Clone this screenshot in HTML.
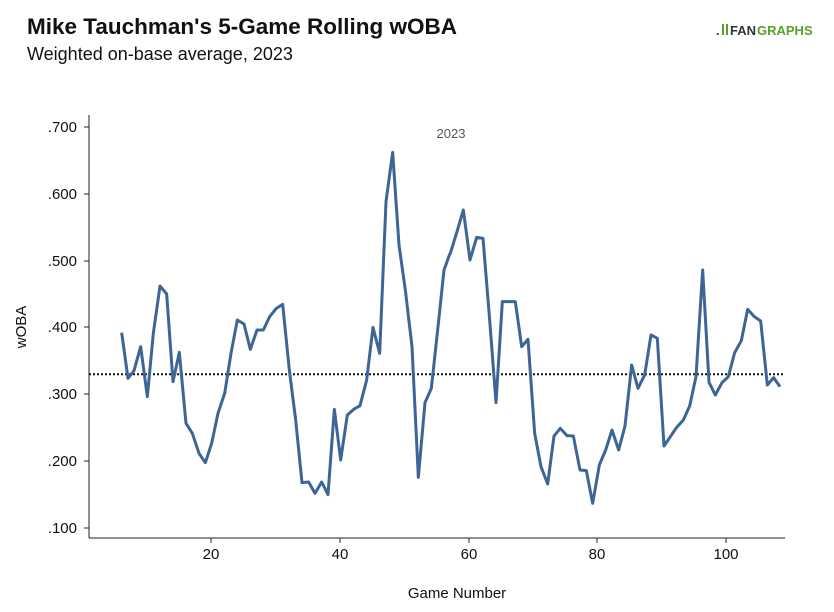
<!DOCTYPE html>
<html><head><meta charset="utf-8"><style>
body{margin:0;background:#fff;}
svg{display:block;font-family:"Liberation Sans",sans-serif;}
</style></head><body>
<svg width="834" height="612" viewBox="0 0 834 612" xmlns="http://www.w3.org/2000/svg">
<rect width="834" height="612" fill="#fff"/>
<text x="27" y="34" font-size="22" font-weight="bold" fill="#111" textLength="430" lengthAdjust="spacingAndGlyphs">Mike Tauchman's 5-Game Rolling wOBA</text>
<text x="27" y="60" font-size="18" fill="#111">Weighted on-base average, 2023</text>
<g font-size="13" font-weight="bold">
<text x="716" y="35" fill="#333">.</text>
<rect x="722" y="24" width="2" height="11" fill="#5aa02c"/><rect x="726" y="24" width="2" height="11" fill="#5aa02c"/>
<text x="730" y="35" fill="#333">FAN</text><text x="757" y="35" fill="#5aa02c">GRAPHS</text>
</g>
<line x1="89" y1="115" x2="89" y2="538" stroke="#222" stroke-width="1"/>
<line x1="89" y1="538" x2="785" y2="538" stroke="#222" stroke-width="1"/>
<g font-size="15" fill="#111" text-anchor="end">
<text x="77" y="132">.700</text><text x="77" y="199">.600</text><text x="77" y="266">.500</text>
<text x="77" y="332">.400</text><text x="77" y="399">.300</text><text x="77" y="466">.200</text><text x="77" y="533">.100</text>
</g>
<g stroke="#222"><line x1="84" y1="127" x2="89" y2="127"/><line x1="84" y1="194" x2="89" y2="194"/><line x1="84" y1="261" x2="89" y2="261"/><line x1="84" y1="327" x2="89" y2="327"/><line x1="84" y1="394" x2="89" y2="394"/><line x1="84" y1="461" x2="89" y2="461"/><line x1="84" y1="528" x2="89" y2="528"/>
<line x1="211" y1="538" x2="211" y2="543"/><line x1="340" y1="538" x2="340" y2="543"/><line x1="469" y1="538" x2="469" y2="543"/><line x1="597" y1="538" x2="597" y2="543"/><line x1="726" y1="538" x2="726" y2="543"/></g>
<g font-size="15" fill="#111" text-anchor="middle">
<text x="211" y="559">20</text><text x="340" y="559">40</text><text x="469" y="559">60</text><text x="597" y="559">80</text><text x="726" y="559">100</text>
<text x="457" y="598">Game Number</text>
<text transform="translate(26,327) rotate(-90)">wOBA</text>
</g>
<text x="451" y="138" font-size="13" fill="#555" text-anchor="middle">2023</text>
<line x1="89" y1="374.3" x2="785" y2="374.3" stroke="#111" stroke-width="2" stroke-dasharray="2 2"/>
<g fill="none" stroke="#3d6595" stroke-width="9" stroke-linejoin="round">
<polyline transform="translate(100,120) scale(0.3333333)" points="65,638 84,775 102,752 122,680 142,830 160,640 180,498 200,522 219,785 238,697 258,910 277,940 297,1000 316,1028 335,970 354,880 374,820 393,700 412,600 432,612 451,688 471,630 490,630 509,590 529,565 548,553 568,750 587,900 606,1088 626,1086 645,1120 665,1086 684,1124 703,868 722,1020 742,885 761,868 780,857 800,780 819,622 839,700 858,245 878,97 897,375 916,510 936,680 955,1072 975,848 994,805 1013,630 1032,450 1050,400"/>
<polyline transform="translate(440,120) scale(0.3333333)" points="30,400 31,400 51,335 70,270 90,420 110,352 129,355 149,600 168,848 187,545 207,545 226,545 245,680 264,658 284,940 303,1040 323,1092 342,948 361,925 381,947 400,948 420,1050 439,1052 458,1150 478,1035 497,990 516,930 536,990 555,918 575,735 594,805 614,765 633,645 652,655 672,978 691,950 710,922 730,900 749,858 768,770 788,450 807,787 826,825 846,788 865,770 884,698 904,662 923,568 943,590 962,603 982,795 1001,773 1020,800"/>
</g>
</svg>
</body></html>
